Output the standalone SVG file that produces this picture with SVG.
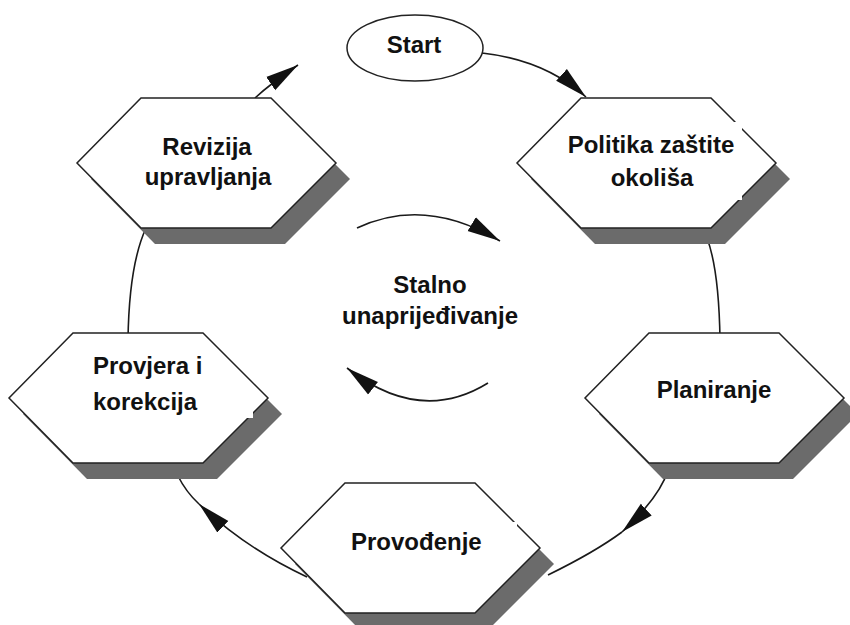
<svg xmlns="http://www.w3.org/2000/svg" xmlns:xlink="http://www.w3.org/1999/xlink" width="850" height="625" viewBox="0 0 850 625">
  <style>
    .conn { fill: none; stroke: #1a1a1a; stroke-width: 1.6; }
    .hex { fill: #ffffff; stroke: #222222; stroke-width: 1.5; stroke-linejoin: miter; }
    .shadow { fill: #6b6b6b; stroke: none; }
    .lbl { font-family: "Liberation Sans", Arial, sans-serif; font-weight: bold; font-size: 24px; fill: #111111; }
    .mid { text-anchor: middle; }
    .bg { fill: #ffffff; stroke: none; }
  </style>
  <defs>
    <marker id="ah" markerUnits="userSpaceOnUse" markerWidth="34" markerHeight="18" viewBox="0 0 34 18" refX="33" refY="9" orient="auto">
      <path d="M0,1 L33,9 L0,17 z" fill="#111111"/>
    </marker>
    <polygon id="hexShape" points="64,0 194,0 259,65 194,130 64,130 0,65"/>
  </defs>

  <rect x="0" y="0" width="850" height="625" fill="#ffffff"/>

  <g id="connectors">
    <path class="conn" d="M482,53 Q545,60 586,97" marker-end="url(#ah)"/>
    <path class="conn" d="M707,238 Q719,270 720,340"/>
    <path class="conn" d="M668,470 Q660,497 622,532" marker-end="url(#ah)"/>
    <path class="conn" d="M622,532 Q595,552 548,575"/>
    <path class="conn" d="M307,577 Q245,548 199,504" marker-end="url(#ah)"/>
    <path class="conn" d="M199,504 Q186,492 178,476"/>
    <path class="conn" d="M128,340 Q129,265 146,228"/>
    <path class="conn" d="M255,98 Q270,84 298,65" marker-end="url(#ah)"/>
    <path class="conn" d="M357,228 Q425,196 500,241" marker-end="url(#ah)"/>
    <path class="conn" d="M488,383 Q420,425 347,368" marker-end="url(#ah)"/>
  </g>

  <g id="start">
    <ellipse cx="415" cy="48" rx="68" ry="33" fill="#ffffff" stroke="#222222" stroke-width="1.5"/>
    <text class="lbl mid" x="414" y="53">Start</text>
  </g>

  <g id="politika" transform="translate(517,98)">
    <use xlink:href="#hexShape" class="shadow" transform="translate(14,16)"/>
    <use xlink:href="#hexShape" class="hex"/>
    <rect class="bg" x="48" y="24" width="177" height="78"/>
    <text class="lbl mid" x="134" y="55">Politika zaštite</text>
    <text class="lbl mid" x="135" y="88">okoliša</text>
  </g>

  <g id="planiranje" transform="translate(585,333)">
    <use xlink:href="#hexShape" class="shadow" transform="translate(14,16)"/>
    <use xlink:href="#hexShape" class="hex"/>
    <text class="lbl mid" x="129" y="65">Planiranje</text>
  </g>

  <g id="provodjenje" transform="translate(281,483)">
    <use xlink:href="#hexShape" class="shadow" transform="translate(14,16)"/>
    <use xlink:href="#hexShape" class="hex"/>
    <rect class="bg" x="64" y="39" width="172" height="38"/>
    <text class="lbl" x="70" y="67">Provođenje</text>
  </g>

  <g id="provjera" transform="translate(9,333)">
    <use xlink:href="#hexShape" class="shadow" transform="translate(14,16)"/>
    <use xlink:href="#hexShape" class="hex"/>
    <rect class="bg" x="130" y="68" width="114" height="17"/>
    <text class="lbl" x="84" y="41">Provjera i</text>
    <text class="lbl" x="84" y="77">korekcija</text>
  </g>

  <g id="revizija" transform="translate(77,98)">
    <use xlink:href="#hexShape" class="shadow" transform="translate(14,16)"/>
    <use xlink:href="#hexShape" class="hex"/>
    <text class="lbl mid" x="130" y="57">Revizija</text>
    <text class="lbl mid" x="131" y="87">upravljanja</text>
  </g>

  <g id="center">
    <text class="lbl mid" x="430" y="293">Stalno</text>
    <text class="lbl mid" x="430" y="324">unaprijeđivanje</text>
  </g>
</svg>
